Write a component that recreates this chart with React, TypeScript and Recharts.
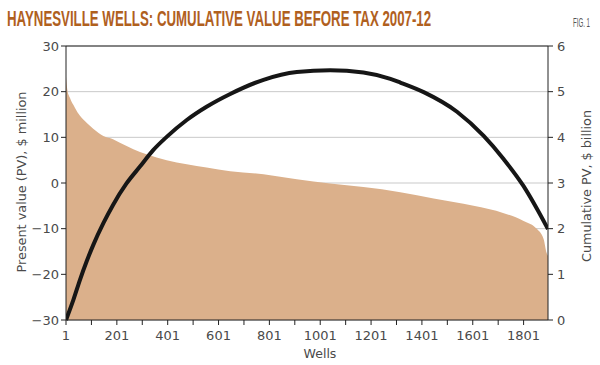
import { useLayoutEffect, useRef, useState } from "react";
import {
  ComposedChart,
  Area,
  Line,
  XAxis,
  YAxis,
  CartesianGrid,
  ReferenceLine,
} from "recharts";

// present value of each well, $ million (sorted high to low)
const pvWells = [
  1, 3, 6, 16, 36, 56, 82, 108, 148, 186, 213, 266, 318, 397, 476, 554, 647,
  778, 909, 1040, 1171, 1316, 1447, 1604, 1723, 1801, 1854, 1880, 1891, 1897,
];
const pvValues = [
  23.3, 22.0, 20.5, 18.7, 16.5, 14.7, 13.2, 11.9, 10.3, 9.6, 8.8, 7.4, 6.3, 5.0,
  4.1, 3.4, 2.6, 1.9, 0.8, -0.1, -0.9, -2.0, -3.4, -5.0, -6.6, -8.3, -10.1,
  -12.3, -15.2, -16,
];

// cumulative PV, $ billion
const cumWells = [
  1, 30, 56, 82, 108, 148, 186, 239, 292, 344, 397, 476, 554, 647, 778, 909,
  1040, 1171, 1277, 1316, 1408, 1539, 1644, 1723, 1801, 1854, 1897,
];
const cumValues = [
  0, 0.44, 0.88, 1.28, 1.64, 2.12, 2.52, 2.99, 3.36, 3.72, 4.01, 4.38, 4.67,
  4.95, 5.26, 5.43, 5.47, 5.42, 5.28, 5.2, 4.99, 4.56, 4.03, 3.52, 2.93, 2.43,
  1.99,
];

const xTicks = [1, 101, 201, 301, 401, 501, 601, 701, 801, 901, 1001, 1101, 1201, 1301, 1401, 1501, 1601, 1701, 1801];
const xTickLabels = ["1", "201", "401", "601", "801", "1001", "1201", "1401", "1601", "1801"];
const leftTicks = [-30, -20, -10, 0, 10, 20, 30];
const rightTicks = [0, 1, 2, 3, 4, 5, 6];

const FONT = "'DejaVu Sans', Arial, sans-serif";
const TICK_STYLE = { fill: "#4a4a4a", fontSize: 13, fontFamily: FONT };

type Row = { well: number; pv?: number; cum?: number };

function buildRows(): Row[] {
  const rows: Record<number, Row> = {};
  pvWells.forEach((w, i) => {
    rows[w] = { ...(rows[w] ?? { well: w }), pv: pvValues[i] };
  });
  cumWells.forEach((w, i) => {
    rows[w] = { ...(rows[w] ?? { well: w }), cum: cumValues[i] };
  });
  return Object.values(rows).sort((a, b) => a.well - b.well);
}

const data = buildRows();

// squeezes a line of text horizontally so it spans the given width
function FitText({
  x,
  y,
  width,
  fontSize,
  fontWeight,
  fill,
  children,
}: {
  x: number;
  y: number;
  width: number;
  fontSize: number;
  fontWeight?: string;
  fill: string;
  children: string;
}) {
  const ref = useRef<SVGTextElement>(null);
  const [sx, setSx] = useState(0.66);
  useLayoutEffect(() => {
    const w = ref.current?.getComputedTextLength();
    if (w) setSx(width / w);
  }, [width]);
  return (
    <text
      ref={ref}
      transform={`translate(${x},${y}) scale(${sx},1)`}
      fontFamily="'Liberation Sans', Arial, sans-serif"
      fontWeight={fontWeight}
      fontSize={fontSize}
      fill={fill}
    >
      {children}
    </text>
  );
}

export default function App() {
  return (
    <div
      style={{
        position: "absolute",
        left: 0,
        top: 0,
        width: 600,
        height: 365,
        background: "#fff",
      }}
    >
      <ComposedChart
        width={600}
        height={365}
        data={data}
        margin={{ top: 46, right: 0, bottom: 0, left: 0 }}
      >
        <CartesianGrid
          yAxisId="left"
          vertical={false}
          stroke="#c9c9c9"
          strokeWidth={1}
        />
        <XAxis
          dataKey="well"
          type="number"
          domain={[1, 1897]}
          allowDataOverflow
          ticks={xTicks}
          interval={0}
          tickFormatter={(v) => (xTickLabels.includes(String(v)) ? String(v) : "")}
          height={45}
          tickSize={5}
          tickMargin={6}
          tick={TICK_STYLE}
          axisLine={{ stroke: "#222" }}
          tickLine={{ stroke: "#222" }}
        />
        <YAxis
          yAxisId="left"
          domain={[-30, 30]}
          ticks={leftTicks}
          interval={0}
          width={66}
          tickSize={5}
          tickMargin={2}
          tick={TICK_STYLE}
          axisLine={{ stroke: "#222" }}
          tickLine={{ stroke: "#222" }}
          tickFormatter={(v) => (v < 0 ? `\u2212${Math.abs(v)}` : String(v))}
        />
        <YAxis
          yAxisId="right"
          orientation="right"
          domain={[0, 6]}
          ticks={rightTicks}
          interval={0}
          width={52}
          tickSize={5}
          tickMargin={4}
          tick={TICK_STYLE}
          axisLine={{ stroke: "#222" }}
          tickLine={{ stroke: "#222" }}
        />
        <Area
          yAxisId="left"
          dataKey="pv"
          type="monotone"
          baseValue={-30}
          fill="#dbb08b"
          fillOpacity={1}
          stroke="none"
          connectNulls
          isAnimationActive={false}
        />
        <ReferenceLine yAxisId="left" y={30} stroke="#222" strokeWidth={1} />
        <Line
          yAxisId="right"
          dataKey="cum"
          type="monotone"
          stroke="#161616"
          strokeWidth={4}
          dot={false}
          connectNulls
          isAnimationActive={false}
        />
      </ComposedChart>
      <svg
        width={600}
        height={365}
        style={{ position: "absolute", left: 0, top: 0, pointerEvents: "none" }}
      >
        <FitText x={7} y={25.5} width={424} fontSize={21.5} fontWeight="bold" fill="#b0601e">
          HAYNESVILLE WELLS: CUMULATIVE VALUE BEFORE TAX 2007-12
        </FitText>
        <FitText x={573} y={26.5} width={17} fontSize={12.5} fill="#555">
          FIG. 1
        </FitText>
        <text
          transform="translate(26,182) rotate(-90)"
          textAnchor="middle"
          fontFamily={FONT}
          fontSize={12.5}
          fill="#4a4a4a"
          textLength={181}
          lengthAdjust="spacingAndGlyphs"
        >
          Present value (PV), $ million
        </text>
        <text
          transform="translate(590.5,186) rotate(-90)"
          textAnchor="middle"
          fontFamily={FONT}
          fontSize={12.5}
          fill="#4a4a4a"
          textLength={152}
          lengthAdjust="spacingAndGlyphs"
        >
          Cumulative PV, $ billion
        </text>
        <text
          x={320}
          y={358}
          textAnchor="middle"
          fontFamily={FONT}
          fontSize={12.5}
          fill="#4a4a4a"
        >
          Wells
        </text>
      </svg>
    </div>
  );
}
